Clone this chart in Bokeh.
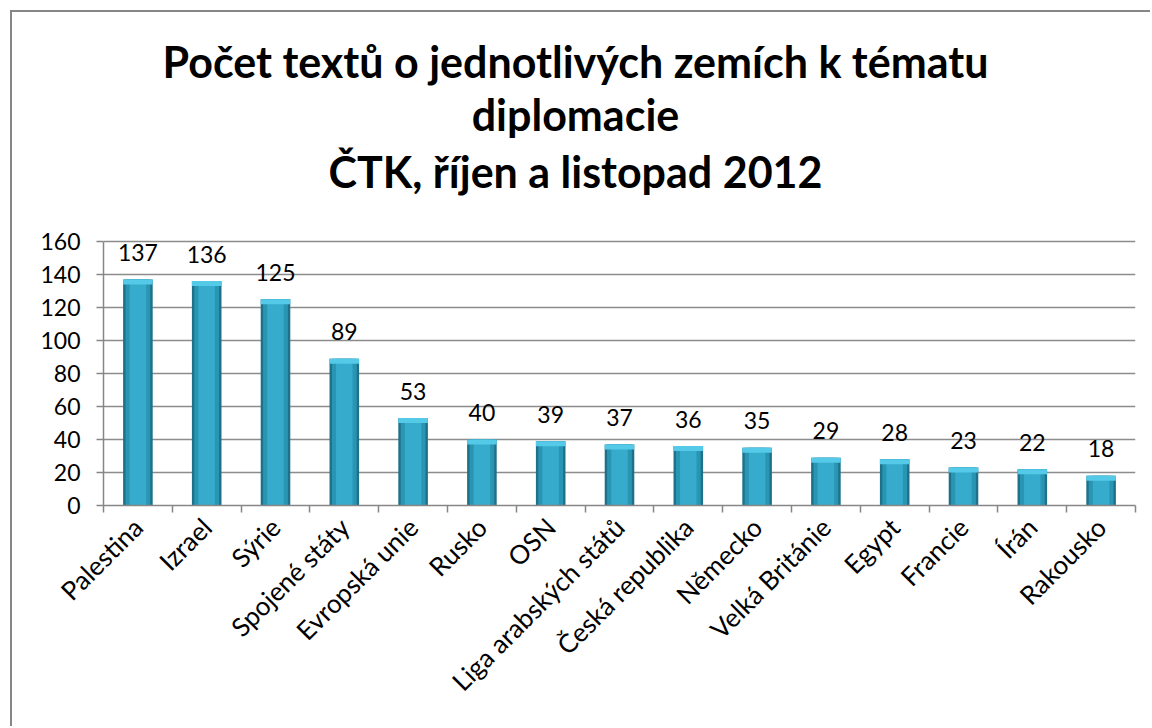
import numpy as np
from bokeh.plotting import figure
from bokeh.models import ColumnDataSource, FixedTicker, Label, Range1d
from bokeh.core.properties import value
from bokeh.embed import file_html
from bokeh.resources import INLINE

countries = ["Palestina", "Izrael", "Sýrie", "Spojené státy", "Evropská unie", "Rusko", "OSN",
             "Liga arabských států", "Česká republika", "Německo", "Velká Británie", "Egypt",
             "Francie", "Írán", "Rakousko"]
counts = [137, 136, 125, 89, 53, 40, 39, 37, 36, 35, 29, 28, 23, 22, 18]
y_ticks = [0, 20, 40, 60, 80, 100, 120, 140, 160]
title_lines = ["Počet textů o jednotlivých zemích k tématu", "diplomacie", "ČTK, říjen a listopad 2012"]

FONT = "Lato"
n = len(countries)
pos = np.arange(n) + 0.5
src = ColumnDataSource(dict(x=pos, y=counts, label=[str(c) for c in counts]))

# layout (pixels)
W, H = 1140, 716
frame_left, frame_right, frame_bottom = 91, 1123, 493
axis_top_px = 229            # pixel row of the 160 line
px_per_unit = (frame_bottom - axis_top_px) / 160.0
y_top = frame_bottom / px_per_unit
cap_units = 5 / px_per_unit  # height of the light cap on each bar

src.data["cap_bottom"] = [max(c - cap_units, 0) for c in counts]

p = figure(width=W, height=H, output_backend="svg", toolbar_location=None, title=None,
           x_range=Range1d(0, n), y_range=Range1d(0, y_top),
           min_border_left=frame_left, min_border_right=W - frame_right,
           min_border_top=0, min_border_bottom=H - frame_bottom)
p.outline_line_color = None
p.background_fill_color = "white"
p.border_fill_color = "white"
p.styles = {"margin-left": "10px", "margin-top": "10px",
            "border-left": "2px solid #868686", "border-top": "2px solid #868686"}

# bars (layered for shading)
p.vbar(x="x", top="y", bottom=0, width=0.43, source=src, fill_color="#1d7189", line_color=None)
p.vbar(x="x", top="y", bottom=0, width=0.36, source=src, fill_color="#2a95b3", line_color=None)
p.vbar(x="x", top="y", bottom=0, width=0.24, source=src, fill_color="#36abcb", line_color=None)
p.vbar(x="x", top="y", bottom="cap_bottom", width=0.43, source=src, fill_color="#55c9e8", line_color=None)

p.text(x="x", y="y", text="label", source=src, text_align="center", text_baseline="alphabetic",
       y_offset=-27, text_font=value(FONT), text_font_size="23px", text_color="black")

# grid
p.xgrid.visible = False
p.ygrid.ticker = FixedTicker(ticks=y_ticks)
p.ygrid.grid_line_color = "#8c8c8c"
p.ygrid.grid_line_width = 1.5

# y axis
ya = p.yaxis[0]
ya.ticker = FixedTicker(ticks=y_ticks)
ya.bounds = (y_ticks[0], y_ticks[-1])
ya.axis_line_color = "#868686"
ya.axis_line_width = 1.5
ya.major_tick_line_color = "#868686"
ya.major_tick_line_width = 1.5
ya.major_tick_out = 7
ya.major_tick_in = 0
ya.minor_tick_line_color = None
ya.major_label_text_font = FONT
ya.major_label_text_font_size = "23px"
ya.major_label_text_color = "black"
ya.major_label_standoff = 16

# x axis
xa = p.xaxis[0]
xa.ticker = FixedTicker(ticks=list(pos), minor_ticks=list(range(n + 1)))
xa.major_label_overrides = {float(x): c for x, c in zip(pos, countries)}
xa.axis_line_color = "#868686"
xa.axis_line_width = 1.5
xa.major_tick_line_color = None
xa.minor_tick_line_color = "#868686"
xa.minor_tick_line_width = 1.5
xa.minor_tick_out = 7
xa.minor_tick_in = 0
xa.major_label_orientation = np.pi / 4
xa.major_label_text_font = FONT
xa.major_label_text_font_size = "26px"
xa.major_label_text_color = "black"
xa.major_label_standoff = 10

# title lines (placed in the empty upper part of the frame)
title_cx_px = 563 - frame_left
title_base_px = [49, 102, 159]
for t, b in zip(title_lines, title_base_px):
    p.add_layout(Label(x=title_cx_px / ((frame_right - frame_left) / n),
                       y=(frame_bottom - b) / px_per_unit,
                       text=t, text_align="center", text_baseline="alphabetic",
                       text_font=FONT, text_font_style="bold", text_font_size="43px",
                       text_color="black"))

open("out.html", "w").write(file_html(p, INLINE))
